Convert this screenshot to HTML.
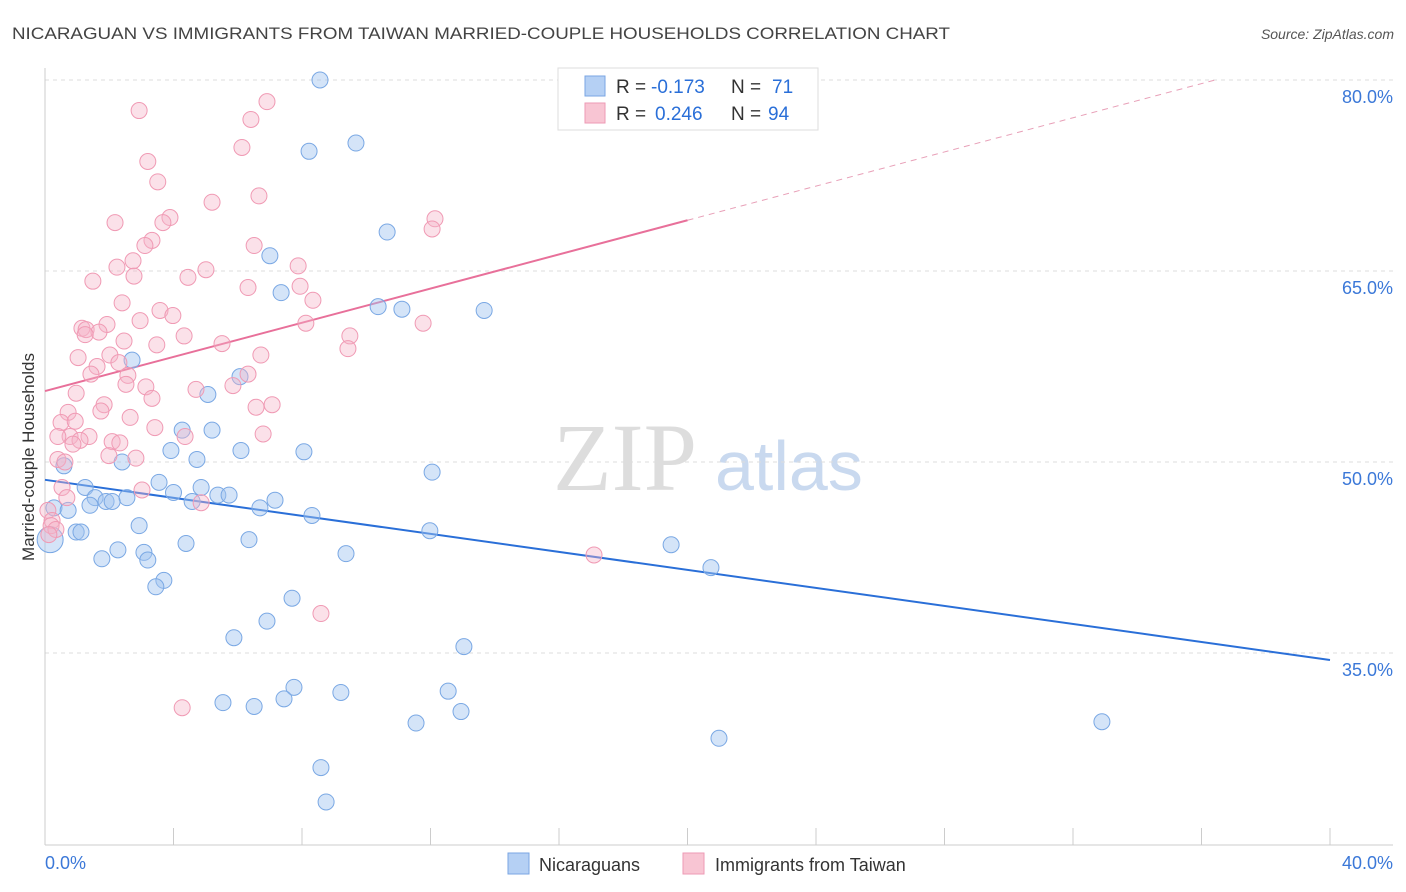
<!DOCTYPE html>
<html><head><meta charset="utf-8"><style>
body{margin:0;background:#fff;font-family:"Liberation Sans",sans-serif;}
svg{display:block}
</style></head><body>
<svg id="chart" width="1406" height="892">
<text x="12" y="39" font-size="17" fill="#444" textLength="938" lengthAdjust="spacingAndGlyphs">NICARAGUAN VS IMMIGRANTS FROM TAIWAN MARRIED-COUPLE HOUSEHOLDS CORRELATION CHART</text>
<text x="1394" y="39" font-size="14" fill="#555" text-anchor="end" font-style="italic">Source: ZipAtlas.com</text>
<text x="0" y="0" transform="translate(34,457) rotate(-90)" font-size="17" fill="#333" text-anchor="middle">Married-couple Households</text>
<g><text x="553" y="490" font-size="96" font-family="Liberation Serif" fill="#ddd">ZIP</text><text x="715" y="490" font-size="70" fill="#c9d9ef">atlas</text></g>
<g id="grid"></g><g id="axes"></g><g id="lines"></g><g id="pts"></g>
<g>
<rect x="558" y="68" width="260" height="62" fill="#fff" stroke="#ddd"/>
<rect x="585" y="76" width="20" height="20" fill="#b5d0f4" stroke="#7aa6e3"/>
<rect x="585" y="103" width="20" height="20" fill="#f8c5d3" stroke="#ee9ab5"/>
<text x="616" y="93" font-size="19" fill="#333">R =</text>
<text x="651" y="93" font-size="19" fill="#2a6fd8">-0.173</text>
<text x="731" y="93" font-size="19" fill="#333">N =</text>
<text x="772" y="93" font-size="19" fill="#2a6fd8">71</text>
<text x="616" y="120" font-size="19" fill="#333">R =</text>
<text x="655" y="120" font-size="19" fill="#2a6fd8">0.246</text>
<text x="731" y="120" font-size="19" fill="#333">N =</text>
<text x="768" y="120" font-size="19" fill="#2a6fd8">94</text>
</g>
<g>
<rect x="508" y="853" width="21" height="21" fill="#b5d0f4" stroke="#7aa6e3"/>
<text x="539" y="871" font-size="18" fill="#333">Nicaraguans</text>
<rect x="683" y="853" width="21" height="21" fill="#f8c5d3" stroke="#ee9ab5"/>
<text x="715" y="871" font-size="18" fill="#333">Immigrants from Taiwan</text>
</g>
</svg>
<script>
const yTicks=[80,65,50,35];
const yTickLabels=["80.0%","65.0%","50.0%","35.0%"];
const xTickLabels=["0.0%","40.0%"];
const blueX=[8.56,8.22,9.68,10.65,7.0,7.35,10.37,11.11,13.67,2.71,6.07,5.07,4.27,5.2,3.92,6.1,8.06,4.73,2.4,0.59,12.05,3.55,1.25,4.0,4.86,5.38,5.73,1.56,2.55,1.9,2.09,4.58,7.16,6.69,0.28,0.72,1.4,8.31,2.93,11.98,0.97,1.12,0.16,4.39,6.35,19.49,2.27,3.08,9.37,1.77,3.2,20.73,3.7,3.45,7.69,6.91,5.88,13.04,7.75,12.55,9.21,7.44,5.54,6.51,12.95,11.55,32.9,20.98,8.59,8.75];
const blueY=[80.0,74.4,75.05,68.06,66.2,63.3,62.2,62.0,61.9,58.0,56.7,55.3,52.5,52.5,50.9,50.9,50.8,50.2,50.0,49.7,49.2,48.4,48.0,47.6,48.0,47.4,47.4,47.2,47.2,46.9,46.9,46.9,47.0,46.4,46.4,46.2,46.6,45.8,45.0,44.6,44.5,44.5,43.9,43.6,43.9,43.5,43.1,42.9,42.8,42.4,42.3,41.7,40.7,40.2,39.3,37.5,36.2,35.5,32.3,32.0,31.9,31.4,31.1,30.8,30.4,29.5,29.6,28.3,26.0,23.3];
const pinkX=[2.93,6.91,6.41,6.13,3.2,3.51,6.66,5.2,2.18,3.89,3.67,12.14,12.05,3.33,3.11,6.51,2.24,2.74,5.01,7.88,4.45,2.77,1.49,6.32,7.94,8.34,2.4,3.58,3.98,2.96,8.12,11.77,1.93,1.15,1.28,1.68,1.25,4.33,9.49,2.46,5.51,3.48,9.43,1.03,2.02,6.72,2.3,1.62,1.43,6.32,2.58,5.85,2.52,3.14,4.7,0.97,3.33,1.84,7.07,6.57,0.72,1.74,2.65,0.5,0.94,3.42,1.37,0.78,0.4,6.79,1.09,4.36,0.87,2.09,2.33,1.99,2.83,0.4,0.62,0.53,3.02,0.68,0.09,0.22,0.19,0.34,0.12,4.86,17.09,8.59,4.27];
const pinkY=[77.6,78.3,76.9,74.7,73.6,72.0,70.9,70.4,68.8,69.2,68.8,69.1,68.3,67.4,67.0,67.0,65.3,65.8,65.1,65.4,64.5,64.6,64.2,63.7,63.8,62.7,62.5,61.9,61.5,61.1,60.9,60.9,60.8,60.5,60.4,60.2,60.0,59.9,59.9,59.5,59.3,59.2,58.9,58.2,58.4,58.4,57.8,57.5,56.9,56.9,56.8,56.0,56.1,55.9,55.7,55.4,55.0,54.5,54.5,54.3,53.9,54.0,53.5,53.1,53.2,52.7,52.0,52.0,52.0,52.2,51.7,52.0,51.4,51.6,51.5,50.5,50.3,50.2,50.0,48.0,47.8,47.2,46.2,45.4,45.0,44.7,44.3,46.8,42.7,38.1,30.7];
const blueTrend=[48.6,34.45];
const pinkTrend=[55.57,82.4];
const NS="http://www.w3.org/2000/svg";
const X0=45,X1=1330,Y80=80,PX=12.733;
const xs=v=>X0+(v/40)*(X1-X0);
const ys=v=>Y80+(80-v)*PX;
function mk(t,a,p){const e=document.createElementNS(NS,t);for(const k in a)e.setAttribute(k,a[k]);document.getElementById(p).appendChild(e);return e;}
yTicks.forEach((t,i)=>{
 const l=mk('line',{x1:45,x2:1393,y1:ys(t),y2:ys(t),stroke:'#ddd','stroke-dasharray':'4,4'},'grid');
 
 
 const tx=mk('text',{x:1393,y:ys(t)+23,'font-size':18,fill:'#3b78d8','text-anchor':'end'},'grid');
 tx.textContent=yTickLabels[i];
 
 
});
const ax=mk('line',{x1:45,x2:45,y1:68,y2:845,stroke:'#ccc'},'axes');


const bx=mk('line',{x1:45,x2:1393,y1:845,y2:845,stroke:'#ccc'},'axes');


for(let i=0;i<=10;i++){const t=mk('line',{x1:xs(i*4),x2:xs(i*4),y1:828,y2:845,stroke:'#ccc'},'axes');
 
 }
[[0,'start',45],[1,'end',1393]].forEach(([i,a,x])=>{const t=mk('text',{x:x,y:869,'font-size':18,fill:'#3b78d8','text-anchor':a},'axes');t.textContent=xTickLabels[i];
 
 });
const bl=mk('line',{x1:xs(0),y1:ys(blueTrend[0]),x2:xs(40),y2:ys(blueTrend[1]),stroke:'#2a6fd8','stroke-width':2},'lines');


const ps=(pinkTrend[1]-pinkTrend[0])/40;const pAt=x=>pinkTrend[0]+ps*x;
const pl=mk('line',{x1:xs(0),y1:ys(pAt(0)),x2:xs(20),y2:ys(pAt(20)),stroke:'#e8709a','stroke-width':2},'lines');


const xe=(80-pinkTrend[0])/ps;
const pd=mk('line',{x1:xs(20),y1:ys(pAt(20)),x2:xs(xe),y2:ys(80),stroke:'#e8a0b8','stroke-width':1,'stroke-dasharray':'6,5'},'lines');


blueX.forEach((x,i)=>{const c=mk('circle',{cx:xs(x),cy:ys(blueY[i]),r:i==42?13:8,fill:'rgba(160,195,240,0.45)',stroke:'#7aa8e4','stroke-width':1},'pts');
 
 });
pinkX.forEach((x,i)=>{const c=mk('circle',{cx:xs(x),cy:ys(pinkY[i]),r:8,fill:'rgba(245,180,200,0.4)',stroke:'#f09ab4','stroke-width':1},'pts');
 
 });
</script>
</body></html>
